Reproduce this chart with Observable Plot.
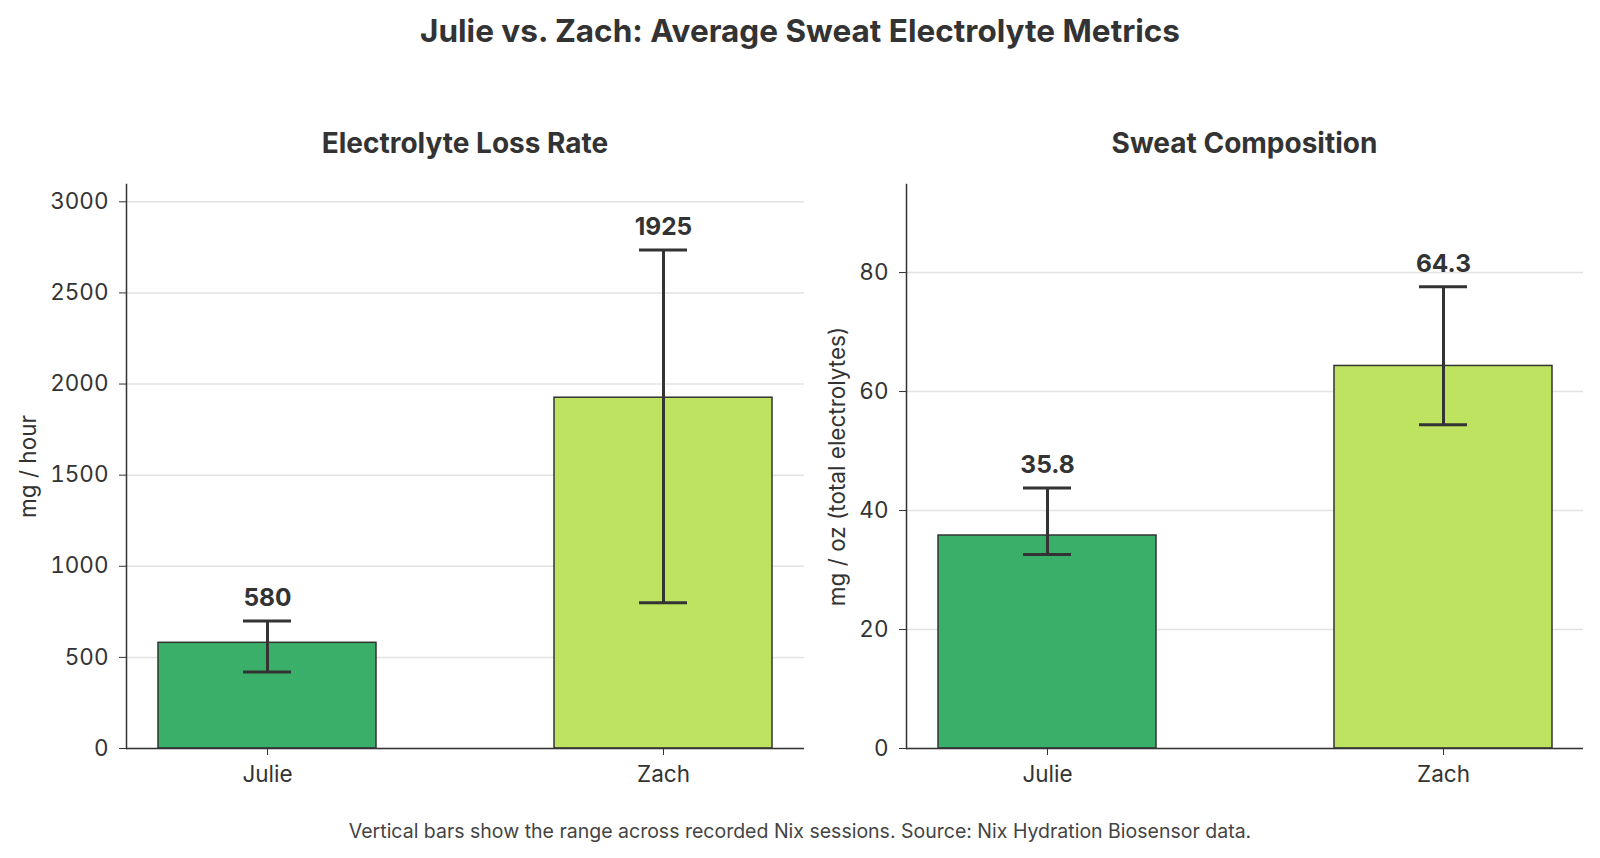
<!DOCTYPE html>
<html>
<head>
<meta charset="utf-8">
<script src="https://cdn.jsdelivr.net/npm/d3@7"></script>
<script src="https://cdn.jsdelivr.net/npm/@observablehq/plot@0.6"></script>
<style>
  html, body { margin: 0; padding: 0; background: #fff; }
  body { width: 1600px; height: 858px; position: relative; font-family: Inter, "Noto Sans", sans-serif; color: #333; overflow: hidden; }
  .title { position: absolute; left: 0; width: 1600px; top: 11px; text-align: center; font-size: 31.5px; line-height: 40px; font-weight: 700; color: #333; }
  .sub { position: absolute; top: 125px; text-align: center; font-size: 28px; line-height: 36px; font-weight: 700; color: #333; }
  .panel { position: absolute; top: 172px; }
  .caption { position: absolute; left: 0; width: 1600px; top: 818px; text-align: center; font-size: 19.5px; line-height: 26px; color: #444; }
</style>
</head>
<body>
<div class="title">Julie vs. Zach: Average Sweat Electrolyte Metrics</div>
<div class="sub" style="left:126px;width:678px;">Electrolyte Loss Rate</div>
<div class="sub" style="left:906px;width:677px;">Sweat Composition</div>
<div class="panel" id="left" style="left:0px;"></div>
<div class="panel" id="right" style="left:815px;"></div>
<div class="caption">Vertical bars show the range across recorded Nix sessions. Source: Nix Hydration Biosensor data.</div>
<script>
const people = ["Julie", "Zach"];
const barColors = ["#3aaf69", "#bee361"];
const lossRate = [580, 1925];
const lossLow = [420, 800];
const lossHigh = [700, 2735];
const lossTicks = [0, 500, 1000, 1500, 2000, 2500, 3000];
const composition = [35.8, 64.3];
const compLow = [32.6, 54.4];
const compHigh = [43.8, 77.6];
const compTicks = [0, 20, 40, 60, 80];

function panel({values, lows, highs, ticks, domain, label, fmt, width, marginLeft, marginRight, labelX}) {
  const rows = people.map((p, i) => ({person: p, value: values[i], lo: lows[i], hi: highs[i], color: barColors[i]}));
  const height = 628;
  return Plot.plot({
    width, height,
    marginLeft, marginRight, marginTop: 12, marginBottom: 52,
    style: {fontFamily: "Inter, 'Noto Sans', sans-serif", fontSize: "22.5px", color: "#333", background: "transparent", overflow: "visible"},
    x: {domain: people, paddingInner: 0.45, paddingOuter: 0.079, label: null},
    y: {domain, label: null},
    marks: [
      Plot.gridY(ticks, {stroke: "#e3e3e3", strokeOpacity: 1, strokeWidth: 1.5}),
      Plot.barY(rows, {x: "person", y: "value", fill: "color", stroke: "#333", strokeWidth: 1.5}),
      Plot.ruleX(rows, {x: "person", y1: "lo", y2: "hi", stroke: "#333", strokeWidth: 3}),
      Plot.tickY(rows, {x: "person", y: "hi", stroke: "#333", strokeWidth: 3, inset: 85}),
      Plot.tickY(rows, {x: "person", y: "lo", stroke: "#333", strokeWidth: 3, inset: 85}),
      Plot.text(rows, {x: "person", y: "hi", text: d => fmt(d.value), dy: -15, lineAnchor: "bottom", fontWeight: 700, fontSize: 24.5, fill: "#333"}),
      Plot.axisY(ticks, {tickSize: 7, tickPadding: 11, fontSize: 22.5, stroke: "#333", fill: "#333", label: null, tickFormat: d => String(d)}),
      Plot.axisX({tickSize: 7, tickPadding: 11, fontSize: 22.5, stroke: "#333", fill: "#333", label: null}),
      Plot.ruleY([0], {stroke: "#333", strokeWidth: 1.5}),
      Plot.frame({anchor: "left", stroke: "#333", strokeWidth: 1.5}),
      Plot.text([label], {frameAnchor: "left", dx: -(marginLeft - labelX), rotate: -90, fontSize: 22.5, fill: "#333", textAnchor: "middle"})
    ]
  });
}

document.getElementById("left").appendChild(panel({
  values: lossRate, lows: lossLow, highs: lossHigh, ticks: lossTicks, domain: [0, 3095],
  label: "mg / hour", fmt: v => String(Math.round(v)), width: 815, marginLeft: 126, marginRight: 11, labelX: 28
}));
document.getElementById("right").appendChild(panel({
  values: composition, lows: compLow, highs: compHigh, ticks: compTicks, domain: [0, 94.8],
  label: "mg / oz (total electrolytes)", fmt: v => v.toFixed(1), width: 785, marginLeft: 91, marginRight: 17, labelX: 22
}));
</script>
</body>
</html>
